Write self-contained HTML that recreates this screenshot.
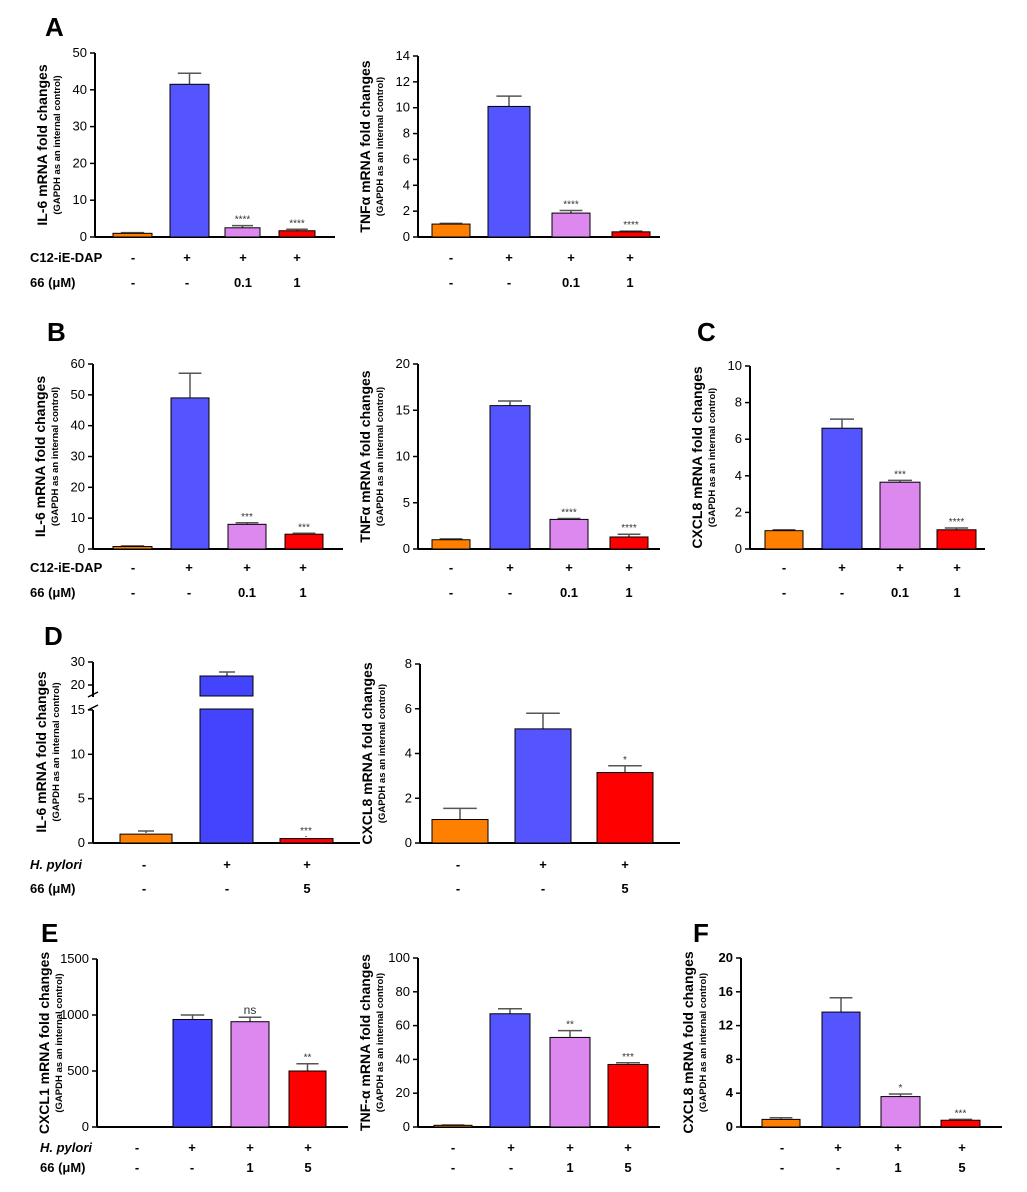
<!DOCTYPE html>
<html><head><meta charset="utf-8"><style>
html,body{margin:0;padding:0;background:#fff}
svg{display:block;font-family:"Liberation Sans",Arial,sans-serif}
</style></head><body>
<svg id="s" width="1027" height="1192" viewBox="0 0 1027 1192" xmlns="http://www.w3.org/2000/svg">
<text x="45" y="36" font-size="26" font-weight="bold">A</text>
<text x="47" y="341" font-size="26" font-weight="bold">B</text>
<text x="697" y="341" font-size="26" font-weight="bold">C</text>
<text x="44" y="645" font-size="26" font-weight="bold">D</text>
<text x="41" y="942" font-size="26" font-weight="bold">E</text>
<text x="693" y="942" font-size="26" font-weight="bold">F</text>
</svg>
<script>
var S=document.getElementById('s'),h='';
var O='#FF8000',B='#5555FF',B2='#4444FF',L='#DD88EE',R='#FF0000';
function t(x,y,s,o){o=o||{};h+='<text x="'+x+'" y="'+y+'" font-size="'+(o.fs||13)+'"'+(o.b?' font-weight="bold"':'')+(o.i?' font-style="italic"':'')+' text-anchor="'+(o.a||'middle')+'"'+(o.tr?' transform="'+o.tr+'"':'')+' fill="'+(o.c||'#000')+'">'+s+'</text>';}
function ln(x1,y1,x2,y2,w,c){h+='<line x1="'+x1+'" y1="'+y1+'" x2="'+x2+'" y2="'+y2+'" stroke="'+(c||'#000')+'" stroke-width="'+(w||1)+'"/>';}
function rc(x,y,w,hh,c){h+='<rect x="'+x+'" y="'+y+'" width="'+w+'" height="'+hh+'" fill="'+c+'" stroke="#000" stroke-width="1"/>';}
function chart(ax,top,bot,max,step,xe,bars,t1,t2,fb){
 var f=function(v){return bot-v*(bot-top)/max;};
 ln(ax,top,ax,bot,2);ln(ax,bot,xe,bot,2);
 for(var v=0;v<=max+1e-9;v+=step){var y=f(v);ln(ax-5,y,ax,y,1.5);t(ax-8,y+4,(Math.round(v*10)/10),{a:'end',b:fb});}
 bars.forEach(function(b){var y=f(b[2]),ye=f(b[3]),cx=(b[0]+b[1])/2,w=(b[1]-b[0])*0.3;
  ln(cx,ye,cx,y,1.5,'#555');ln(cx-w,ye,cx+w,ye,1.5,'#555');
  rc(b[0],y,b[1]-b[0],bot-y,b[4]);
  if(b[5])t(cx,ye-3,b[5],{fs:b[5]=='ns'?12:10,c:'#333'});});
 var cy=(top+bot)/2;
 t(ax-48,cy,t1,{b:1,fs:14,tr:'rotate(-90 '+(ax-48)+' '+cy+')'});
 t(ax-35,cy,t2,{b:1,fs:9.5,tr:'rotate(-90 '+(ax-35)+' '+cy+')'});
}
function rows(xs,r1,r2,y1,y2){xs.forEach(function(x,i){t(x,y1,r1[i],{b:1,fs:13});t(x,y2,r2[i],{b:1,fs:13});});}
var s1=['-','+','+','+'],s2=['-','-','0.1','1'];
// A
chart(95,53,237,50,10,335,[[113,152,1,1.2,O],[170,209,41.5,44.5,B],[225,260,2.5,3.1,L,'****'],[279,315,1.7,2.1,R,'****']],'IL-6 mRNA fold changes','(GAPDH as an internal control)');
t(30,262,'C12-iE-DAP',{a:'start',b:1,fs:13});t(30,287,'66 (μM)',{a:'start',b:1,fs:13});
rows([133,187,243,297],s1,s2,262,287);
chart(418,56,237,14,2,660,[[432,470,1,1.05,O],[488,530,10.1,10.9,B],[552,590,1.85,2.05,L,'****'],[612,650,0.4,0.45,R,'****']],'TNFα mRNA fold changes','(GAPDH as an internal control)');
rows([451,509,571,630],s1,s2,262,287);
// B
chart(93,364,549,60,10,343,[[113,152,0.8,1,O],[171,209,49,57,B],[228,266,8,8.5,L,'***'],[285,323,4.8,5.1,R,'***']],'IL-6 mRNA fold changes','(GAPDH as an internal control)');
t(30,572,'C12-iE-DAP',{a:'start',b:1,fs:13});t(30,597,'66 (μM)',{a:'start',b:1,fs:13});
rows([133,189,247,303],s1,s2,572,597);
chart(418,364,549,20,5,660,[[432,470,1,1.1,O],[490,530,15.5,16,B],[550,588,3.2,3.3,L,'****'],[610,648,1.3,1.6,R,'****']],'TNFα mRNA fold changes','(GAPDH as an internal control)');
rows([451,510,569,629],s1,s2,572,597);
chart(750,366,549,10,2,985,[[765,803,1,1.05,O],[822,862,6.6,7.1,B],[880,920,3.65,3.75,L,'***'],[937,976,1.05,1.15,R,'****']],'CXCL8 mRNA fold changes','(GAPDH as an internal control)');
rows([784,842,900,957],s1,s2,572,597);
// D1 broken axis
(function(){var ax=93,bot=843,f=function(v){return bot-v*8.87;},g=function(v){return 685-(v-20)*2.3;};
ln(ax,662,ax,697,2);ln(ax,710,ax,bot,2);ln(ax,bot,360,bot,2);
ln(ax-5,697,ax+5,692,1.5);ln(ax-5,710,ax+5,705,1.5);
[0,5,10,15].forEach(function(v){var y=f(v);ln(ax-5,y,ax,y,1.5);t(ax-8,y+4,v,{a:'end'});});
[20,30].forEach(function(v){var y=g(v);ln(ax-5,y,ax,y,1.5);t(ax-8,y+4,v,{a:'end'});});
ln(146,833,146,831,1.5,'#555');ln(138,831,154,831,1.5,'#555');rc(120,f(1),52,bot-f(1),O);
ln(227,676,227,672,1.5,'#555');ln(219,672,235,672,1.5,'#555');
rc(200,676,53,20,B2);rc(200,709,53,bot-709,B2);
ln(306,837,306,836,1.5,'#555');rc(280,f(0.5),53,bot-f(0.5),R);t(306,834,'***',{fs:10,c:'#333'});
var cy=752;t(46,cy,'IL-6 mRNA fold changes',{b:1,fs:14,tr:'rotate(-90 46 '+cy+')'});
t(59,cy,'(GAPDH as an internal control)',{b:1,fs:9.5,tr:'rotate(-90 59 '+cy+')'});
})();
t(30,869,'H. pylori',{a:'start',b:1,i:1,fs:13});t(30,893,'66 (μM)',{a:'start',b:1,fs:13});
rows([144,227,307],['-','+','+'],['-','-','5'],869,893);
chart(420,664,843,8,2,680,[[432,488,1.05,1.55,O],[515,571,5.1,5.8,B],[597,653,3.15,3.45,R,'*']],'CXCL8 mRNA fold changes','(GAPDH as an internal control)');
rows([458,543,625],['-','+','+'],['-','-','5'],869,893);
// E
chart(97,959,1127,1500,500,348,[[173,212,960,1000,B2],[231,269,940,980,L,'ns'],[289,326,500,565,R,'**']],'CXCL1 mRNA fold changes','(GAPDH as an internal control)');
t(40,1152,'H. pylori',{a:'start',b:1,i:1,fs:13});t(40,1172,'66 (μM)',{a:'start',b:1,fs:13});
var e1=['-','+','+','+'],e2=['-','-','1','5'];
rows([137,192,250,308],e1,e2,1152,1172);
chart(418,958,1127,100,20,660,[[434,472,1,1.2,O],[490,530,67,70,B],[550,590,53,57,L,'**'],[608,648,37,38,R,'***']],'TNF-α mRNA fold changes','(GAPDH as an internal control)');
rows([453,511,570,628],e1,e2,1152,1172);
chart(741,958,1127,20,4,1002,[[762,800,0.9,1.1,O],[822,860,13.6,15.3,B],[881,920,3.6,3.9,L,'*'],[941,980,0.8,0.9,R,'***']],'CXCL8 mRNA fold changes','(GAPDH as an internal control)',1);
rows([782,838,898,962],e1,e2,1152,1172);
S.insertAdjacentHTML('beforeend',h);
</script>
</body></html>
